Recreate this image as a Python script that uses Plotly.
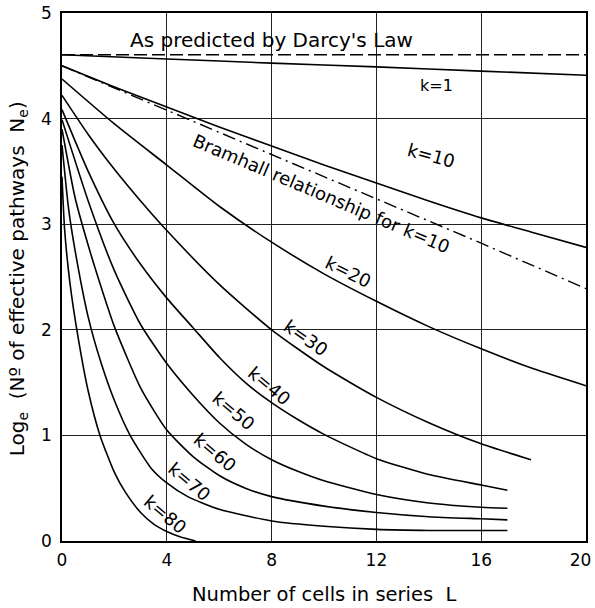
import plotly.graph_objects as go

# ---- data ----
darcy_x = [0, 20]
darcy_y = [4.605, 4.605]

k1_x = [0, 4, 8, 12, 16, 20]
k1_y = [4.605, 4.565, 4.525, 4.49, 4.45, 4.41]

k10_x = [0, 2, 4, 6, 8, 10, 12, 14, 16, 18, 20]
k10_y = [4.50, 4.30, 4.11, 3.92, 3.74, 3.56, 3.39, 3.22, 3.06, 2.92, 2.78]

bram_x = [0, 4, 8, 12, 16, 20]
bram_y = [4.50, 4.08, 3.66, 3.24, 2.82, 2.39]

k20_x = [0, 2, 4, 6, 8, 10, 12, 14, 16, 18, 20]
k20_y = [4.375, 3.95, 3.56, 3.17, 2.83, 2.53, 2.27, 2.03, 1.82, 1.63, 1.47]

k30_x = [0, 1, 2, 3, 4, 6, 8, 10, 12, 14, 16, 17.9]
k30_y = [4.22, 3.85, 3.52, 3.22, 2.94, 2.43, 2.0, 1.65, 1.36, 1.12, 0.92, 0.77]

k40_x = [0, 1, 2, 3, 4, 5, 6, 7, 8, 9, 10, 12, 14, 16, 17]
k40_y = [4.085, 3.50, 3.00, 2.62, 2.30, 2.02, 1.74, 1.50, 1.31, 1.15, 1.01, 0.78, 0.63, 0.53, 0.48]

k50_x = [0, 1, 2, 3, 4, 5, 6, 7, 8, 9, 10, 12, 14, 16, 17]
k50_y = [3.99, 3.22, 2.56, 2.05, 1.68, 1.38, 1.12, 0.92, 0.77, 0.66, 0.57, 0.44, 0.36, 0.32, 0.31]

k60_x = [0, 0.5, 1, 1.5, 2, 3, 4, 5, 6, 7, 8, 10, 12, 14, 16, 17]
k60_y = [3.90, 3.25, 2.80, 2.40, 2.03, 1.45, 1.05, 0.80, 0.62, 0.50, 0.42, 0.33, 0.27, 0.23, 0.21, 0.20]

k70_x = [0, 0.25, 0.5, 1, 1.5, 2, 2.6, 3.4, 4, 4.8, 6, 8, 10, 12, 14, 17]
k70_y = [3.75, 3.15, 2.75, 2.12, 1.68, 1.33, 1.0, 0.69, 0.55, 0.42, 0.30, 0.19, 0.14, 0.11, 0.10, 0.10]

k80_x = [0, 0.1, 0.3, 0.6, 1, 1.45, 2, 2.4, 3, 3.5, 4, 4.5, 5.1]
k80_y = [3.45, 2.95, 2.45, 1.95, 1.42, 1.0, 0.65, 0.47, 0.27, 0.16, 0.09, 0.04, 0.0]

x_ticks = [0, 4, 8, 12, 16, 20]
x_ticktext = ["0", "4", "8", "12", "16", "20\u00a0\u00a0"]
y_ticks = [0, 1, 2, 3, 4, 5]

# label texts, positions (data coords), angles, sizes
labels = [
    ("As predicted by Darcy's Law", 8.0, 4.745, 0, 20),
    ("k=1", 14.3, 4.31, 0, 16),
    ("k=10", 14.1, 3.65, 15, 18),
    ("Bramhall relationship for k=10", 9.9, 3.29, 23, 18),
    ("k=20", 10.9, 2.55, 26, 18),
    ("k=30", 9.3, 1.93, 35, 18),
    ("k=40", 7.9, 1.47, 40, 18),
    ("k=50", 6.55, 1.24, 40, 18),
    ("k=60", 5.85, 0.84, 40, 18),
    ("k=70", 4.85, 0.56, 40, 18),
    ("k=80", 3.95, 0.25, 40, 18),
]

FONT = "DejaVu Sans"
fig = go.Figure()

fig.add_trace(go.Scatter(x=darcy_x, y=darcy_y, mode="lines",
                         line=dict(color="black", width=1.6, dash="13px,5px")))
fig.add_trace(go.Scatter(x=bram_x, y=bram_y, mode="lines",
                         line=dict(color="black", width=1.4, dash="13px,5px,2px,5px")))
for xs, ys in [(k1_x, k1_y), (k10_x, k10_y), (k20_x, k20_y), (k30_x, k30_y),
               (k40_x, k40_y), (k50_x, k50_y), (k60_x, k60_y), (k70_x, k70_y),
               (k80_x, k80_y)]:
    fig.add_trace(go.Scatter(x=xs, y=ys, mode="lines", line_shape="spline",
                             line=dict(color="black", width=1.6, smoothing=0.6)))

for text, lx, ly, ang, sz in labels:
    fig.add_annotation(x=lx, y=ly, text=text, showarrow=False, textangle=ang,
                       font=dict(family=FONT, size=sz, color="black"))

# axis titles
fig.add_annotation(xref="paper", yref="paper", x=-0.084, y=0.4975,
                   xanchor="center", yanchor="middle",
                   text="Log<sub>e</sub>  (Nº of effective pathways  N<sub>e</sub>)",
                   textangle=-90, showarrow=False,
                   font=dict(family=FONT, size=20, color="black"))
fig.add_annotation(xref="paper", yref="paper", x=0.5, y=-0.101,
                   xanchor="center", yanchor="middle",
                   text="Number of cells in series  L", showarrow=False,
                   font=dict(family=FONT, size=19.5, color="black"))

fig.update_layout(
    width=595, height=608,
    margin=dict(l=62, r=9, t=13, b=67, autoexpand=False),
    paper_bgcolor="white", plot_bgcolor="white",
    showlegend=False,
    font=dict(family=FONT, color="black"),
)
fig.update_xaxes(range=[0, 20], tickvals=x_ticks, ticktext=x_ticktext,
                 showgrid=True, gridcolor="#222",
                 gridwidth=1, showline=True, linecolor="black", linewidth=1.5,
                 mirror=True, zeroline=False, ticks="", automargin=False,
                 ticklabelstandoff=3, ticklabeloverflow="allow",
                 tickfont=dict(family=FONT, size=17, color="black"))
fig.update_yaxes(range=[0, 5], tickvals=y_ticks, showgrid=True, gridcolor="#222",
                 gridwidth=1, showline=True, linecolor="black", linewidth=1.5,
                 mirror=True, zeroline=False, ticks="", automargin=False,
                 ticklabelstandoff=5, ticklabeloverflow="allow",
                 tickfont=dict(family=FONT, size=17, color="black"))

# remove the default page margin so the figure fills the window exactly
fig.write_html("out.html", config={"displayModeBar": False},
               post_script="document.body.style.margin='0';")
